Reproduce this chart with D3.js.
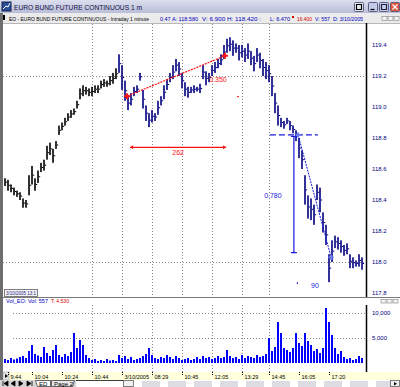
<!DOCTYPE html>
<html>
<head>
<meta charset="utf-8">
<script src="https://cdn.jsdelivr.net/npm/d3@7"></script>
<style>
html, body { margin: 0; padding: 0; background: #fff; overflow: hidden; }
svg { display: block; font-family: "Liberation Sans", Arial, sans-serif; }
</style>
</head>
<body>
<div id="chart"></div>
<script>
// Euro Bund 1-minute chart, price bars + volume panel

const priceHi = [
  118.54,118.53,118.50,118.48,118.46,118.45,118.41,118.40,118.56,118.62,
  118.54,118.59,118.64,118.66,118.75,118.77,118.73,118.78,118.88,118.90,
  118.93,118.96,118.98,118.99,119.04,119.12,119.14,119.13,119.12,119.13,
  119.14,119.14,119.17,119.18,119.17,119.20,119.22,119.25,119.34,119.27,
  119.17,119.07,119.09,119.13,119.14,119.22,119.11,119.01,118.96,118.98,
  118.96,119.04,119.07,119.14,119.18,119.22,119.27,119.31,119.29,119.22,
  119.16,119.13,119.13,119.14,119.13,119.15,119.27,119.23,119.22,119.27,
  119.29,119.31,119.34,119.40,119.44,119.45,119.43,119.41,119.40,119.40,
  119.38,119.41,119.36,119.33,119.38,119.35,119.31,119.29,119.27,119.20,
  119.09,119.01,118.93,118.91,118.93,118.91,118.88,118.85,118.80,118.72,
  118.56,118.43,118.41,118.37,118.50,118.48,118.32,118.24,118.05,118.14,
  118.17,118.16,118.14,118.11,118.12,118.05,118.03,118.01,118.05,118.03
];
const priceLo = [
  118.49,118.46,118.45,118.43,118.42,118.40,118.35,118.35,118.43,118.50,
  118.46,118.51,118.58,118.59,118.66,118.69,118.64,118.73,118.82,118.85,
  118.88,118.91,118.93,118.95,118.99,119.05,119.07,119.08,119.07,119.07,
  119.09,119.09,119.12,119.13,119.13,119.14,119.15,119.18,119.22,119.11,
  119.04,118.98,119.01,119.07,119.09,119.17,118.99,118.91,118.87,118.90,
  118.91,118.95,119.01,119.05,119.11,119.16,119.18,119.23,119.20,119.12,
  119.07,119.06,119.09,119.09,119.10,119.09,119.18,119.14,119.16,119.20,
  119.22,119.25,119.27,119.31,119.35,119.36,119.33,119.35,119.30,119.32,
  119.29,119.31,119.27,119.23,119.29,119.25,119.20,119.18,119.16,119.07,
  118.96,118.88,118.87,118.86,118.89,118.85,118.83,118.78,118.67,118.60,
  118.37,118.28,118.27,118.24,118.40,118.32,118.19,118.11,117.87,118.00,
  118.09,118.08,118.06,118.04,118.05,117.96,117.96,117.97,117.97,117.95
];
const volume = [
  800,600,1000,700,900,1200,1400,1000,2400,3600,
  1800,1500,1200,3200,2000,1400,2600,3600,1600,1200,
  1800,1400,2200,6000,3000,4600,3600,1600,1000,600,
  800,400,600,400,800,500,600,400,1600,1000,
  1400,800,1200,600,800,1000,1400,1800,3000,1600,
  1000,800,1200,1000,1600,1200,800,1400,1000,600,
  800,1000,600,800,1200,800,1400,1000,1200,800,
  1000,1400,1000,1200,2600,1400,1000,1200,800,1600,
  1000,1400,1200,1000,1600,1200,1400,1800,5000,2400,
  3200,8200,6000,3000,2600,2200,3000,6000,4000,3400,
  6000,4400,3600,2400,2800,2000,3000,11000,8200,5600,
  3000,1800,2400,1200,800,1000,600,800,1400,1000
];
const prevSessionLast = 37;   // bars up to here belong to the previous session

const priceTicks = [117.8, 118.0, 118.2, 118.4, 118.6, 118.8, 119.0, 119.2, 119.4];
const priceGrid = [118.0, 119.2];
const volTicks = [5000, 10000];
const timeTickIdx = [1, 9, 19, 29, 39, 49, 59, 69, 79, 88, 98, 108];
const timeTickLabels = ['9:44','10:04','10:24','10:44','3/10/2005','08:29','10:45','12:05','13:29','14:45','16:05','17:20'];
const gridTickIdx = [29, 39, 49, 59, 69, 79, 88];

// drawing tools (bar index, price)
const redTrend = [[40.7, 119.07], [73.3, 119.33]];
const redTrendLabel = { i: 71, p: 119.16, text: '0.350' };
const redSpan = { from: 41.7, to: 73.7, p: 118.74, text: '262' };
const blueLevel = { from: 88.3, to: 104.3, p: 118.82 };
const blueDrop = { i: 96.3, from: 118.81, to: 118.06, text: '0.780' };
const blueDiag = [[97.7, 118.82], [108.7, 118.03]];
const blueBarsLabel = { i: 103.3, p: 117.83, text: '90' };

const W = 400, H = 387;
const svg = d3.select('#chart').append('svg').attr('width', W).attr('height', H);
const defs = svg.append('defs');
const tg = defs.append('linearGradient').attr('id', 'titleGrad').attr('x1', 0).attr('y1', 0).attr('x2', 0).attr('y2', 1);
tg.append('stop').attr('offset', '0%').attr('stop-color', '#dcdfee');
tg.append('stop').attr('offset', '100%').attr('stop-color', '#b9bdd6');

const x = d3.scaleLinear().domain([0, priceHi.length - 1]).range([5, 362]);
const y = d3.scaleLinear().domain([118.0, 119.4]).range([262, 45]);
const yv = d3.scaleLinear().domain([0, 10000]).range([363, 313]);

const plotL = 3, axisX = 366;
const mainTop = 23, mainBot = 297, volTop = 305, volBot = 372;
const narrow = '"Liberation Sans Narrow", "Liberation Sans", Arial, sans-serif';

// ---- window chrome ----
svg.append('rect').attr('x', 0).attr('y', 0).attr('width', W).attr('height', 13).attr('fill', 'url(#titleGrad)');
svg.append('rect').attr('x', 2).attr('y', 2).attr('width', 9).attr('height', 9).attr('fill', '#2a4c9a').attr('stroke', '#10204a');
svg.append('path').attr('d', 'M3,9 L6,6 L8,7 L10,3').attr('stroke', '#fff').attr('fill', 'none').attr('stroke-width', 1);
svg.append('text').attr('x', 14).attr('y', 10).attr('font-size', 8).attr('fill', '#10104a')
  .attr('textLength', 128).attr('lengthAdjust', 'spacingAndGlyphs')
  .text('EURO BUND FUTURE CONTINUOUS 1 m');

const btns = [{ x: 354, fill: '#e8e8f0', sym: 'box' }, { x: 368, fill: '#c4ccea', sym: '_' },
  { x: 379, fill: '#c4ccea', sym: 'max' }, { x: 390, fill: '#e0533c', sym: 'x' }];
btns.forEach(b => {
  svg.append('rect').attr('x', b.x + 0.5).attr('y', 2.5).attr('width', 9).attr('height', 9)
    .attr('fill', b.fill).attr('stroke', '#5a5f80').attr('rx', 1);
  const s = svg.append('path').attr('fill', 'none').attr('stroke-width', 1.2);
  if (b.sym === 'box') s.attr('d', `M${b.x + 2.5},4.5 h5 v5 h-5 z`).attr('stroke', '#000');
  if (b.sym === '_') s.attr('d', `M${b.x + 2.5},9.5 h4`).attr('stroke', '#000');
  if (b.sym === 'max') s.attr('d', `M${b.x + 2.5},4.5 h5 v5 h-5 z`).attr('stroke', '#202040');
  if (b.sym === 'x') s.attr('d', `M${b.x + 2.5},4.5 l5,5 M${b.x + 7.5},4.5 l-5,5`).attr('stroke', '#fff');
});

// info row
svg.append('rect').attr('x', 0).attr('y', 13).attr('width', W).attr('height', 10).attr('fill', '#ebebeb');
svg.append('line').attr('x1', 0).attr('x2', W).attr('y1', 23.5).attr('y2', 23.5).attr('stroke', '#b8b8b8');
svg.append('rect').attr('x', 3).attr('y', 15).attr('width', 2).attr('height', 5).attr('fill', '#000');
const info = [
  { x: 9, t: 'EO - EURO BUND FUTURE CONTINUOUS - Intraday 1 minute', c: '#000', w: 140 },
  { x: 160, t: '0.47  A: 118.580', c: '#0000c0', w: 38 },
  { x: 202, t: 'V: 6.900  H: 118.420  :', c: '#0000c0', w: 59 },
  { x: 270, t: 'L: 6.470', c: '#0000c0', w: 20 },
  { x: 297, t: '16.400', c: '#e00000', w: 15 },
  { x: 315, t: 'V: 557', c: '#0000c0', w: 15 },
  { x: 333, t: 'D: 3/10/2005', c: '#0000c0', w: 30 }
];
info.forEach(d => {
  svg.append('text').attr('x', d.x).attr('y', 20.5).attr('font-size', 5).attr('fill', d.c)
    .attr('font-family', narrow)
    .attr('textLength', d.w).attr('lengthAdjust', 'spacingAndGlyphs').text(d.t);
});
svg.append('rect').attr('x', 292).attr('y', 16).attr('width', 2).attr('height', 2).attr('fill', '#e00000');
[382, 388, 394].forEach(bx => svg.append('rect').attr('x', bx).attr('y', 16.5).attr('width', 5).attr('height', 4)
  .attr('fill', '#f4f4f4').attr('stroke', '#808080').attr('stroke-width', 0.6));

// left frame
svg.append('rect').attr('x', 0).attr('y', 13).attr('width', 3).attr('height', 367).attr('fill', '#6e6e6e');

// ---- main price panel ----
const grid = svg.append('g').attr('stroke', '#8a8a8a').attr('stroke-dasharray', '1,2').attr('stroke-width', 1);
priceGrid.forEach(p => grid.append('line').attr('x1', plotL).attr('x2', axisX)
  .attr('y1', Math.round(y(p)) + 0.5).attr('y2', Math.round(y(p)) + 0.5));
gridTickIdx.forEach(i => {
  const gx = Math.round(x(i)) + 0.5;
  grid.append('line').attr('x1', gx).attr('x2', gx).attr('y1', mainTop + 1).attr('y2', mainBot);
  grid.append('line').attr('x1', gx).attr('x2', gx).attr('y1', volTop).attr('y2', volBot);
});

const bars = svg.append('g');
priceHi.forEach((hi, i) => {
  const col = i <= prevSessionLast ? '#000000' : '#000080';
  const bx = x(i);
  bars.append('rect')
    .attr('x', bx - 0.8).attr('y', y(hi))
    .attr('width', 1.6).attr('height', Math.max(1.5, y(priceLo[i]) - y(hi)))
    .attr('fill', col);
  bars.append('rect')
    .attr('x', bx + 0.8).attr('y', y((hi + priceLo[i]) / 2) - 0.5)
    .attr('width', 1.4).attr('height', 1).attr('fill', col);
});

// price axis
svg.append('line').attr('x1', axisX + 0.5).attr('x2', axisX + 0.5).attr('y1', mainTop).attr('y2', mainBot)
  .attr('stroke', '#000').attr('stroke-width', 1.5);
const pAxis = svg.append('g').attr('transform', `translate(${axisX},0)`)
  .call(d3.axisRight(y).tickValues(priceTicks).tickSize(0).tickPadding(6).tickFormat(d3.format('.1f')));
pAxis.select('.domain').remove();
pAxis.selectAll('text').attr('font-size', 6).attr('fill', '#000080').attr('font-family', '"Liberation Sans", Arial, sans-serif');

// red tools
const red = '#ff1010';
svg.append('line')
  .attr('x1', x(redTrend[0][0])).attr('y1', y(redTrend[0][1]))
  .attr('x2', x(redTrend[1][0])).attr('y2', y(redTrend[1][1]))
  .attr('stroke', red).attr('stroke-width', 1.2).attr('stroke-dasharray', '2,1');
function cross(px, py, c, s) {
  svg.append('path').attr('d', `M${px - s},${py} h${2 * s} M${px},${py - s} v${2 * s}`)
    .attr('stroke', c).attr('stroke-width', 2);
}
redTrend.forEach(d => cross(x(d[0]), y(d[1]), red, 3));
svg.append('text').attr('x', x(redTrendLabel.i)).attr('y', y(redTrendLabel.p)).attr('font-size', 7)
  .attr('fill', red).attr('text-anchor', 'middle').text(redTrendLabel.text);
svg.append('rect').attr('x', x(77.3)).attr('y', y(119.07)).attr('width', 2).attr('height', 1).attr('fill', red);

const sy = y(redSpan.p);
svg.append('line').attr('x1', x(redSpan.from)).attr('x2', x(redSpan.to)).attr('y1', sy).attr('y2', sy)
  .attr('stroke', red).attr('stroke-width', 1.2);
svg.append('path').attr('d', `M${x(redSpan.from)},${sy} l3,-2 v4 z M${x(redSpan.to)},${sy} l-3,-2 v4 z`).attr('fill', red);
svg.append('text').attr('x', (x(redSpan.from) + x(redSpan.to)) / 2).attr('y', sy + 8).attr('font-size', 7)
  .attr('fill', red).attr('text-anchor', 'middle').text(redSpan.text);

// blue tools
const blue = '#1a1ae0';
svg.append('line').attr('x1', x(blueLevel.from)).attr('x2', x(blueLevel.to))
  .attr('y1', y(blueLevel.p)).attr('y2', y(blueLevel.p))
  .attr('stroke', blue).attr('stroke-width', 1.2).attr('stroke-dasharray', '6,3');
const dx = x(blueDrop.i);
svg.append('path').attr('d', `M${dx},${y(blueDrop.from)} V${y(blueDrop.to)} M${dx - 3},${y(blueDrop.from)} h6 M${dx - 3},${y(blueDrop.to)} h6`)
  .attr('stroke', blue).attr('stroke-width', 1.2).attr('fill', 'none');
svg.append('text').attr('x', dx - 21).attr('y', (y(blueDrop.from) + y(blueDrop.to)) / 2 + 3).attr('font-size', 7)
  .attr('fill', blue).attr('text-anchor', 'middle').text(blueDrop.text);
svg.append('line')
  .attr('x1', x(blueDiag[0][0])).attr('y1', y(blueDiag[0][1]))
  .attr('x2', x(blueDiag[1][0])).attr('y2', y(blueDiag[1][1]))
  .attr('stroke', blue).attr('stroke-width', 1).attr('stroke-dasharray', '2,1');
blueDiag.forEach(d => cross(x(d[0]), y(d[1]), '#6b7cf0', 2.5));
svg.append('text').attr('x', x(blueBarsLabel.i)).attr('y', y(blueBarsLabel.p)).attr('font-size', 7)
  .attr('fill', blue).attr('text-anchor', 'middle').text(blueBarsLabel.text);
svg.append('rect').attr('x', x(97.3)).attr('y', y(117.87)).attr('width', 1).attr('height', 2).attr('fill', blue);

// session date box
svg.append('rect').attr('x', 4.5).attr('y', 289.5).attr('width', 33).attr('height', 7)
  .attr('fill', '#f4f4f4').attr('stroke', '#606060').attr('stroke-width', 0.8);
svg.append('text').attr('x', 6).attr('y', 295).attr('font-size', 5).attr('fill', '#202080')
  .attr('font-family', narrow)
  .attr('textLength', 30).attr('lengthAdjust', 'spacingAndGlyphs').text('3/10/2005 13:1');

// panel separator
svg.append('line').attr('x1', plotL).attr('x2', W).attr('y1', mainBot + 0.5).attr('y2', mainBot + 0.5)
  .attr('stroke', '#7a7a7a');

// ---- volume panel ----
svg.append('text').attr('x', 6).attr('y', 303).attr('font-size', 5.5).attr('fill', '#0000c0')
  .attr('textLength', 42).attr('lengthAdjust', 'spacingAndGlyphs').text('Vol_EO:  Vol: 557');
svg.append('text').attr('x', 51).attr('y', 303).attr('font-size', 5.5).attr('fill', '#e00000')
  .attr('textLength', 18).attr('lengthAdjust', 'spacingAndGlyphs').text('T: 4.530');
[381, 387, 393].forEach(bx => svg.append('rect').attr('x', bx).attr('y', 299.5).attr('width', 5).attr('height', 3.5)
  .attr('fill', '#f4f4f4').attr('stroke', '#808080').attr('stroke-width', 0.6));

volTicks.forEach(v => svg.append('line').attr('x1', plotL + 10).attr('x2', axisX)
  .attr('y1', Math.round(yv(v)) + 0.5).attr('y2', Math.round(yv(v)) + 0.5)
  .attr('stroke', '#8a8a8a').attr('stroke-dasharray', '1,2'));

svg.append('g').selectAll('rect').data(volume).join('rect')
  .attr('x', (d, i) => x(i) - 1).attr('y', d => yv(d))
  .attr('width', 2).attr('height', d => yv(0) - yv(d))
  .attr('fill', '#0000ff');

svg.append('line').attr('x1', axisX + 0.5).attr('x2', axisX + 0.5).attr('y1', volTop).attr('y2', volBot)
  .attr('stroke', '#000').attr('stroke-width', 1.5);
const vAxis = svg.append('g').attr('transform', `translate(${axisX},0)`)
  .call(d3.axisRight(yv).tickValues(volTicks).tickSize(0).tickPadding(6).tickFormat(d3.format(',')));
vAxis.select('.domain').remove();
vAxis.selectAll('text').attr('font-size', 6).attr('fill', '#000080').attr('font-family', '"Liberation Sans", Arial, sans-serif');

// ---- time axis ----
svg.append('rect').attr('x', plotL).attr('y', volBot).attr('width', W - plotL).attr('height', 8).attr('fill', '#ffffdc');
svg.append('rect').attr('x', plotL).attr('y', volBot).attr('width', 6).attr('height', 8).attr('fill', '#e4e4e4').attr('stroke', '#909090').attr('stroke-width', 0.5);
svg.append('path').attr('d', `M5,${volBot + 2} l3,2 l-3,2 z`).attr('fill', '#000');
const tAxis = svg.append('g');
timeTickIdx.forEach((ti, k) => {
  const tx = Math.round(x(ti)) + 0.5;
  tAxis.append('line').attr('x1', tx).attr('x2', tx).attr('y1', volBot).attr('y2', volBot + 3)
    .attr('stroke', '#000').attr('stroke-dasharray', '1,1');
  tAxis.append('text').attr('x', tx + 2).attr('y', volBot + 6.5).attr('font-size', 5.5).attr('fill', '#000')
    .text(timeTickLabels[k]);
});

// ---- sheet tabs / scroll bar ----
svg.append('rect').attr('x', 0).attr('y', 380).attr('width', W).attr('height', 7).attr('fill', '#d6d6d6');
svg.append('rect').attr('x', 76).attr('y', 380).attr('width', 324).attr('height', 7).attr('fill', '#fff');
['M3,381 v5 M8,381 l-4,2.5 l4,2.5 z', 'M15,381 l-4,2.5 l4,2.5 z', 'M19,381 l4,2.5 l-4,2.5 z', 'M27,381 l4,2.5 l-4,2.5 z M32,381 v5']
  .forEach(d => svg.append('path').attr('d', d).attr('fill', '#000').attr('stroke', '#000').attr('stroke-width', 0.8));
svg.append('path').attr('d', 'M35.5,380.5 h15 v6 h-13 z').attr('fill', '#fff').attr('stroke', '#404040').attr('stroke-width', 0.8);
svg.append('text').attr('x', 39).attr('y', 386).attr('font-size', 6).attr('fill', '#000').text('ED');
svg.append('path').attr('d', 'M51.5,380.5 h23 l-2,6 h-21 z').attr('fill', '#e8e8e8').attr('stroke', '#404040').attr('stroke-width', 0.8);
svg.append('text').attr('x', 54).attr('y', 386).attr('font-size', 6).attr('fill', '#000').text('Page 2');
svg.append('line').attr('x1', 76).attr('x2', 123).attr('y1', 380.5).attr('y2', 380.5).attr('stroke', '#404040');
svg.append('rect').attr('x', 123.5).attr('y', 380.5).attr('width', 10).attr('height', 6).attr('fill', '#f0f0f0').attr('stroke', '#606060').attr('stroke-width', 0.8);
for (let sx = 142; sx < 386; sx += 26) {
  svg.append('rect').attr('x', sx).attr('y', 381).attr('width', 18).attr('height', 6).attr('fill', '#dcdce2');
}
svg.append('rect').attr('x', 390.5).attr('y', 380.5).attr('width', 9).attr('height', 6).attr('fill', '#eee').attr('stroke', '#606060').attr('stroke-width', 0.8);
svg.append('path').attr('d', 'M394,382 l3,1.8 l-3,1.8 z').attr('fill', '#000');
</script>
</body>
</html>
